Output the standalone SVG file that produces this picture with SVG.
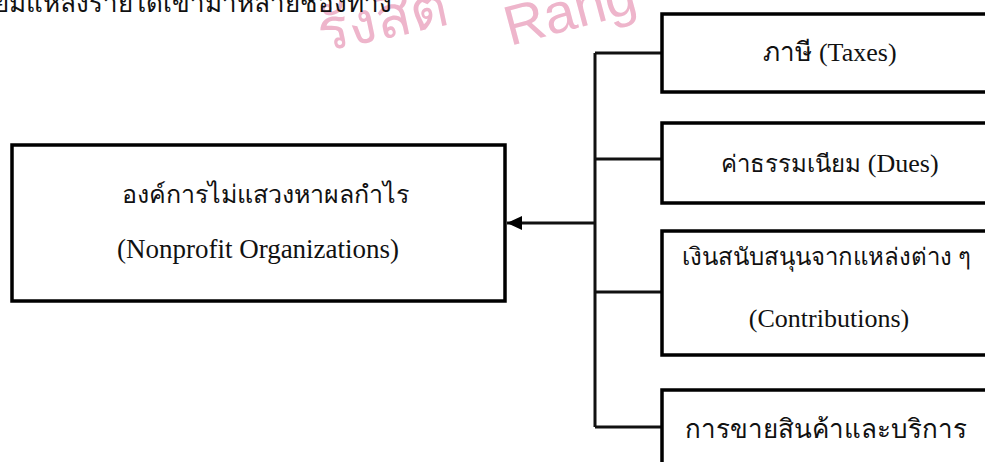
<svg xmlns="http://www.w3.org/2000/svg" width="985" height="462" viewBox="0 0 985 462">
<defs>
<style>
.box{fill:#fff;stroke:#000;stroke-width:3.5}
.t{font-family:"Liberation Serif","Noto Sans",serif;font-size:26px;fill:#111;text-anchor:middle}
.th{font-size:24px}
.conn{fill:none;stroke:#111;stroke-width:3}
.wm{font-family:"Liberation Sans","Noto Sans",sans-serif;fill:#eeb5cb}
</style>
<marker id="ah" markerWidth="16" markerHeight="14" refX="15" refY="7" orient="auto" markerUnits="userSpaceOnUse">
<path d="M0,0 L15,7 L0,14 Z" fill="#000"/>
</marker>
</defs>
<rect width="985" height="462" fill="#fff"/>
<g id="watermark">
<text class="wm" x="322" y="52" style="font-size:58px" transform="rotate(-12 322 52)">รังสิต</text>
<text class="wm" x="510" y="46" style="font-size:56px" transform="rotate(-15 510 46)">Rang</text>
</g>
<text class="t" x="-6" y="12" style="text-anchor:start">ยมแหล่งรายได้เข้ามาหลายช่องทาง</text>
<g id="connectors">
<path class="conn" d="M595,53 V427"/>
<path class="conn" d="M595,53 H662 M595,159 H662 M595,292 H662 M595,427 H662"/>
<path class="conn" d="M595,223 H507" marker-end="url(#ah)"/>
</g>
<g id="main">
<rect class="box" x="12" y="145" width="493" height="156"/>
<text class="t" x="265" y="203" style="font-size:25px">องค์การไม่แสวงหาผลกำไร</text>
<text class="t" x="258" y="258" style="font-size:27px">(Nonprofit Organizations)</text>
</g>
<g id="taxes">
<rect class="box" x="662" y="14" width="340" height="78"/>
<text class="t" x="830" y="61">ภาษี (Taxes)</text>
</g>
<g id="dues">
<rect class="box" x="662" y="123" width="340" height="80"/>
<text class="t" x="830" y="172"><tspan class="th">ค่าธรรมเนียม</tspan> (Dues)</text>
</g>
<g id="contributions">
<rect class="box" x="662" y="231" width="340" height="124"/>
<text class="t" x="826" y="265" style="font-size:24px">เงินสนับสนุนจากแหล่งต่าง ๆ</text>
<text class="t" x="829" y="327">(Contributions)</text>
</g>
<g id="sales">
<rect class="box" x="662" y="390" width="340" height="90"/>
<text class="t" x="826" y="438">การขายสินค้าและบริการ</text>
</g>
</svg>
